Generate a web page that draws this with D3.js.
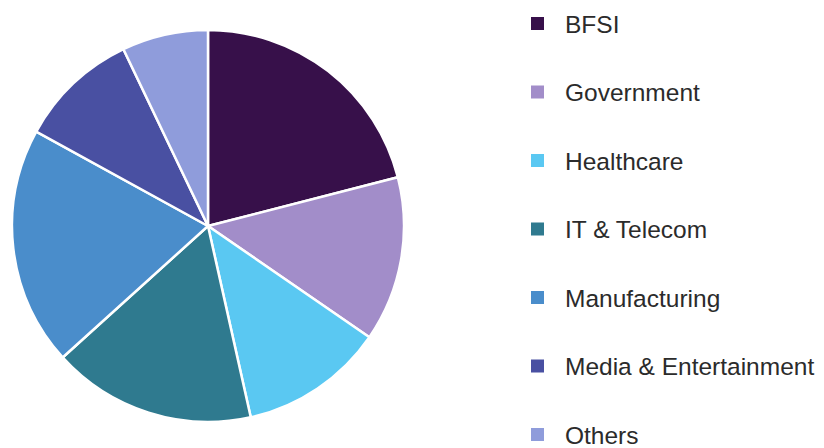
<!DOCTYPE html>
<html>
<head>
<meta charset="utf-8">
<script src="https://cdn.jsdelivr.net/npm/d3@7"></script>
<style>
  html, body { margin: 0; padding: 0; background: #ffffff; }
  svg { display: block; }
</style>
</head>
<body>
<svg id="chart" width="824" height="448"></svg>
<script>
const categories = ["BFSI", "Government", "Healthcare", "IT & Telecom", "Manufacturing", "Media & Entertainment", "Others"];
const shares = [21.0, 13.6, 11.9, 16.8, 19.7, 9.9, 7.1];
const colors = ["#37104a", "#a28dc9", "#5ac8f2", "#2f7a8f", "#4a8dcb", "#4950a2", "#8f9cdb"];

const data = categories.map((c, i) => ({ name: c, value: shares[i] }));

const svg = d3.select("#chart");
const cx = 208, cy = 226, r = 196;

const pie = d3.pie().value(d => d.value).sort(null);
const arc = d3.arc().innerRadius(0).outerRadius(r);
const color = d3.scaleOrdinal().domain(categories).range(colors);

svg.append("g")
  .attr("transform", `translate(${cx},${cy})`)
  .selectAll("path")
  .data(pie(data))
  .join("path")
  .attr("d", arc)
  .attr("fill", d => color(d.data.name))
  .attr("stroke", "#ffffff")
  .attr("stroke-width", 2.5)
  .attr("stroke-linejoin", "round");

const legendY = d3.scalePoint().domain(categories).range([24, 435]);

const leg = svg.append("g")
  .selectAll("g")
  .data(categories)
  .join("g")
  .attr("transform", d => `translate(531,${legendY(d)})`);

leg.append("rect")
  .attr("x", 0).attr("y", -7)
  .attr("width", 13).attr("height", 13)
  .attr("fill", d => color(d));

leg.append("text")
  .attr("x", 34).attr("y", 0)
  .attr("dy", "0.35em")
  .attr("font-family", "'Liberation Sans', Arial, sans-serif")
  .attr("font-size", 24.5)
  .attr("fill", "#2b2b2b")
  .text(d => d);
</script>
</body>
</html>
